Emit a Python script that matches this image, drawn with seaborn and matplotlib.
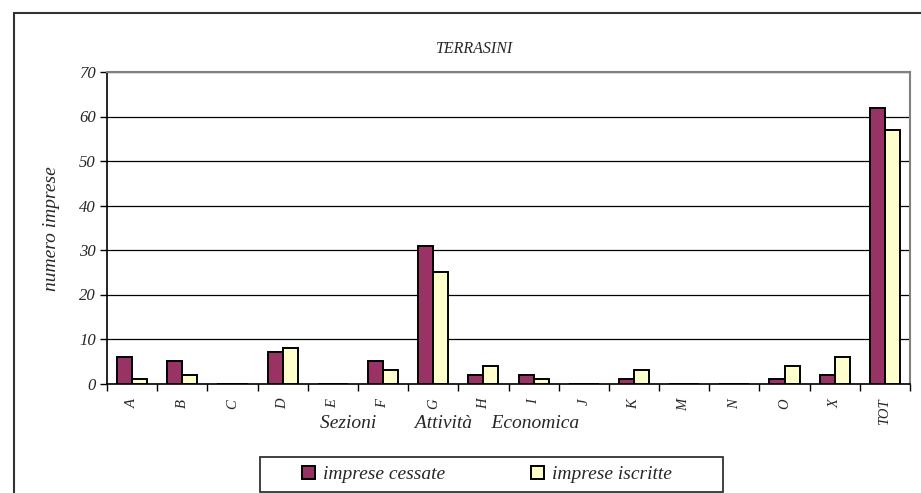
import matplotlib
matplotlib.use("Agg")
import matplotlib.pyplot as plt
import seaborn as sns
import pandas as pd
from matplotlib.patches import Rectangle, Patch

categories = ["A", "B", "C", "D", "E", "F", "G", "H", "I", "J", "K", "M", "N", "O", "X", "TOT"]
cessate = [6, 5, 0, 7, 0, 5, 31, 2, 2, 0, 1, 0, 0, 1, 2, 62]
iscritte = [1, 2, 0, 8, 0, 3, 25, 4, 1, 0, 3, 0, 0, 4, 6, 57]
series_names = ["imprese cessate", "imprese iscritte"]
colors = ["#993366", "#FFFFCC"]
yticks = [0, 10, 20, 30, 40, 50, 60, 70]

df = pd.DataFrame({
    "cat": categories * 2,
    "val": cessate + iscritte,
    "serie": [series_names[0]] * len(categories) + [series_names[1]] * len(categories),
})

sns.set_theme(style="white")
plt.rcParams["font.family"] = ["Liberation Serif", "DejaVu Serif"]
plt.rcParams["font.style"] = "italic"

fig = plt.figure(figsize=(9.21, 4.93), dpi=100)
ax = fig.add_axes([107 / 921, 1 - 383.5 / 493, (910 - 107) / 921, (383.5 - 72) / 493])

sns.barplot(data=df, x="cat", y="val", hue="serie", order=categories,
            hue_order=series_names, palette=colors, width=0.6,
            edgecolor="black", linewidth=1.4, saturation=1, ax=ax, legend=False, zorder=3)

ax.set_ylim(0, 70)
ax.set_xlim(-0.5, len(categories) - 0.5)
ax.set_yticks(yticks)
ax.set_yticklabels([str(v) for v in yticks], fontsize=12, fontstyle="italic")
ax.yaxis.grid(True, color="black", linewidth=0.9, zorder=0)
ax.set_axisbelow(True)

ax.set_xticks(range(len(categories)))
ax.set_xticklabels(categories, rotation=90, fontsize=10.5, fontstyle="italic")
ax.tick_params(axis="x", which="major", length=0, pad=11)
ax.set_xticks([i - 0.5 for i in range(len(categories) + 1)], minor=True)
ax.tick_params(axis="x", which="minor", length=5, width=1, color="black", direction="out", bottom=True)
ax.tick_params(axis="y", length=5, width=1, color="black", direction="out", left=True, pad=3)

ax.set_xlabel("")
ax.set_ylabel("")
for side in ["left", "bottom"]:
    ax.spines[side].set_color("black")
    ax.spines[side].set_linewidth(1.2)
for side in ["top", "right"]:
    ax.spines[side].set_color("#808080")
    ax.spines[side].set_linewidth(1.5)
    ax.spines[side].set_visible(True)

fig.text(475 / 921, 1 - 49 / 493, "TERRASINI", ha="center", va="center", fontsize=11.5, fontstyle="italic")
fig.text(52 / 921, 1 - 229 / 493, "numero imprese", rotation=90, ha="center", va="center",
         fontsize=14, fontstyle="italic")
fig.text(450 / 921, 1 - 424 / 493, "Sezioni        Attività    Economica", ha="center", va="center",
         fontsize=14, fontstyle="italic")

# outer chart frame
fig.patches.append(Rectangle((14 / 921, -0.1), 1.2, (1 - 13 / 493) + 0.1, transform=fig.transFigure,
                             fill=False, edgecolor="#333333", linewidth=1.5))
# legend frame
fig.patches.append(Rectangle((260 / 921, 1 - 492 / 493), (723 - 260) / 921, (492 - 457) / 493,
                             transform=fig.transFigure, fill=False, edgecolor="#333333", linewidth=1.3))

handles = [Patch(facecolor=c, edgecolor="black", linewidth=1.4) for c in colors]
fig.legend(handles, series_names, loc="center left", bbox_to_anchor=(302 / 921, 1 - 474.5 / 493),
           ncol=2, frameon=False, handlelength=0.65, handleheight=0.65,
           handletextpad=0.45, columnspacing=4.4, borderpad=0, borderaxespad=0,
           prop={"style": "italic", "size": 14})

fig.savefig("out.png", dpi=100, facecolor="white")
